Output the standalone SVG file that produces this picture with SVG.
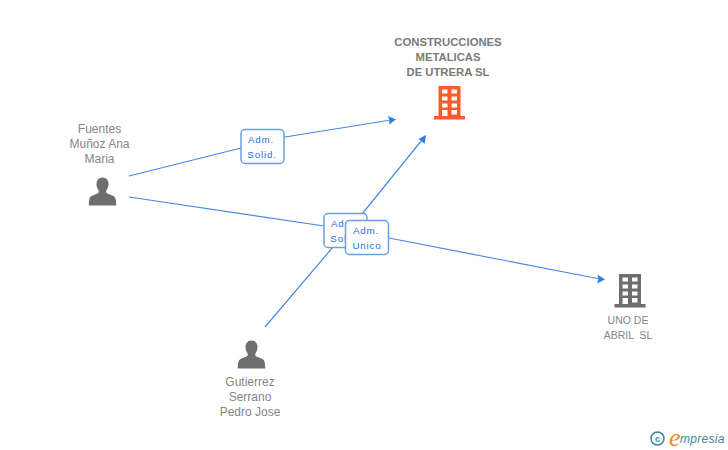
<svg xmlns="http://www.w3.org/2000/svg" width="728" height="450" viewBox="0 0 728 450">
<style>
.l{font-family:"Liberation Sans",Arial,sans-serif;font-size:12px;fill:#858585;text-anchor:middle}
.b{font-weight:bold;font-size:11.3px;fill:#7a7a7a}
.s{font-size:10.5px}
.c{fill:none;stroke:#4a88e6;stroke-width:1.2}
.a{fill:#2f7be8}
.box{fill:#fff;stroke:#6a9fe8;stroke-width:1.5}
.t{font-family:"Liberation Sans",Arial,sans-serif;font-size:9.8px;letter-spacing:.8px;fill:#2a6fdc;text-anchor:middle}
.p{fill:#6e6e6e}
</style>
<defs>
<g id="person"><path d="M0-14.500C4-14.500 6-11.500 6-8C6-5.300 5-3 3.800-1.500V.5C5 2.500 12 3 13 6.500C13.700 9 13.700 12 13.700 13.500H-13.700C-13.700 12-13.700 9-13 6.500C-12 3-5 2.500-3.800 .5V-1.500C-5-3-6-5.300-6-8C-6-11.500-4-14.500 0-14.500Z"/></g>
<g id="bld"><path fill-rule="evenodd" d="M-11-17H11V13H15.500V16.500H-15.500V13H-11ZM-7.500-13.500V-9.500H-2V-13.500ZM2-13.500V-9.500H7.500V-13.500ZM-7.500-6.500V-2.500H-2V-6.500ZM2-6.500V-2.500H7.500V-6.500ZM-7.500 .5V4.500H-2V.5ZM2 .5V4.500H7.500V.5ZM-7.500 7V13H-2V7ZM2 7V11.500H7.500V7Z"/></g>
</defs>
<g id="connectors">
<path class="c" d="M129 176L241 148M285 137L391 120"/>
<path class="a" d="M396 119.500L388 116L389.500 120.500L389 124.500Z"/>
<path class="c" d="M265 327L333 247M358 219L422 140"/>
<path class="a" d="M426 135L418.500 139L422 141.500L424.500 144Z"/>
<path class="c" d="M129 197L324 226M389 238L600 279"/>
<path class="a" d="M605 279.500L597.500 274.500L598.500 279L597 283.500Z"/>
</g>
<g id="node-construcciones">
<text class="l b" x="448" y="45.500">CONSTRUCCIONES</text>
<text class="l b" x="448" y="60.500">METALICAS</text>
<text class="l b" x="448" y="75.500">DE UTRERA SL</text>
<use href="#bld" x="449.500" y="103" fill="#ff5a2c"/>
</g>
<g id="node-fuentes">
<text class="l" x="99.500" y="133">Fuentes</text>
<text class="l" x="99.500" y="148">Muñoz Ana</text>
<text class="l" x="99.500" y="163">Maria</text>
<use href="#person" x="102.500" y="192" class="p"/>
</g>
<g id="node-gutierrez">
<text class="l" x="250" y="385.500">Gutierrez</text>
<text class="l" x="250" y="400.500">Serrano</text>
<text class="l" x="250" y="415.500">Pedro Jose</text>
<use href="#person" x="251.500" y="355" class="p"/>
</g>
<g id="node-uno">
<text class="l s" x="628" y="324">UNO DE</text>
<text class="l s" x="628" y="339" xml:space="preserve">ABRIL  SL</text>
<use href="#bld" x="630" y="291" class="p"/>
</g>
<g id="label-solid">
<rect class="box" x="241" y="129.500" width="43" height="34" rx="4"/>
<text class="t" x="261" y="143">Adm.</text>
<text class="t" x="262" y="158">Solid.</text>
</g>
<g id="label-so">
<rect class="box" x="324" y="213.500" width="43" height="34" rx="4"/>
<text class="t" x="344" y="227">Adm.</text>
<text class="t" x="345" y="242">Solid.</text>
</g>
<g id="label-unico">
<rect class="box" x="345.500" y="220.500" width="43" height="34" rx="4"/>
<text class="t" x="366" y="234">Adm.</text>
<text class="t" x="367" y="249">Unico</text>
</g>
<g id="logo">
<circle cx="657.500" cy="438.500" r="6.500" fill="none" stroke="#3d8a99" stroke-width="1.500"/>
<text x="657.500" y="441.500" font-family="Liberation Sans,sans-serif" font-size="9" font-weight="bold" fill="#3d8a99" text-anchor="middle">c</text>
<text x="669" y="445.500" font-family="Liberation Serif,serif" font-size="26" font-style="italic" fill="#f28a1e">e</text>
<text x="680" y="443" font-family="Liberation Sans,sans-serif" font-size="12" font-style="italic" letter-spacing=".3" fill="#3d8a99">mpresia</text>
</g>
</svg>
